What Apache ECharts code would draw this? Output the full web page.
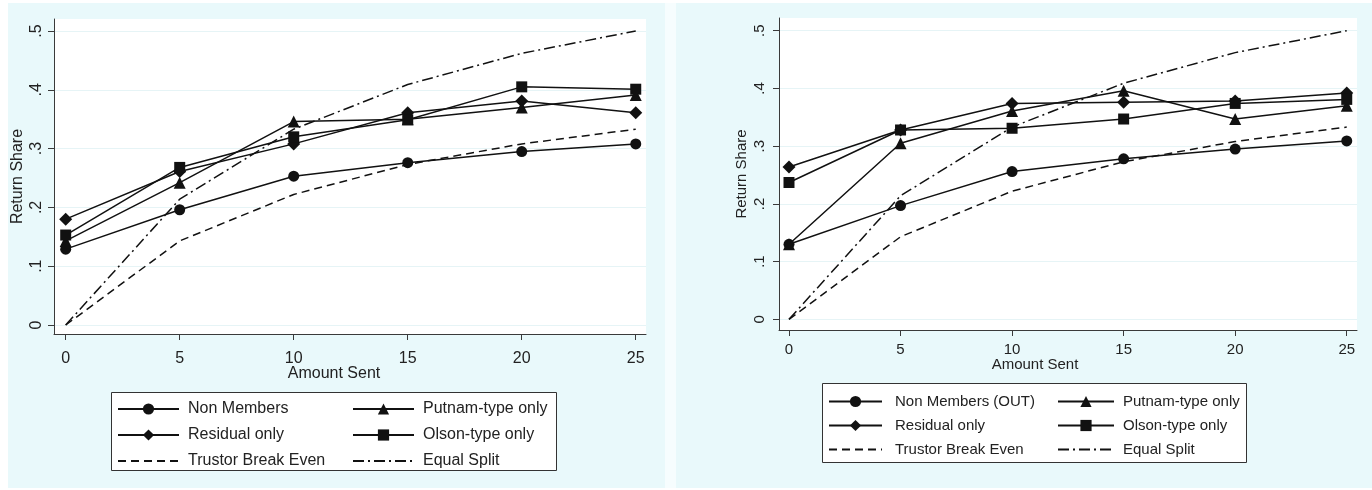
<!DOCTYPE html>
<html>
<head>
<meta charset="utf-8">
<script src="https://cdn.jsdelivr.net/npm/echarts@6/dist/echarts.min.js"></script>
<style>
html,body{margin:0;padding:0;background:#ffffff;}
#chart{width:1372px;height:490px;}
</style>
</head>
<body>
<div id="chart"></div>
<script>
// ---- data ----
const amounts = [0, 5, 10, 15, 20, 25];
const xTicks = [0, 5, 10, 15, 20, 25];
const yTicks = [0, 0.1, 0.2, 0.3, 0.4, 0.5];

// left panel
const nonMembersLeft = [0.129, 0.196, 0.253, 0.276, 0.295, 0.308];
const putnamLeft     = [0.143, 0.242, 0.346, 0.350, 0.370, 0.391];
const residualLeft   = [0.180, 0.261, 0.308, 0.361, 0.381, 0.361];
const olsonLeft      = [0.153, 0.268, 0.320, 0.349, 0.405, 0.401];

// right panel
const nonMembersRight = [0.130, 0.197, 0.256, 0.278, 0.295, 0.309];
const putnamRight     = [0.130, 0.305, 0.361, 0.396, 0.347, 0.370];
const residualRight   = [0.264, 0.328, 0.374, 0.376, 0.378, 0.392];
const olsonRight      = [0.237, 0.328, 0.331, 0.347, 0.374, 0.381];

// reference lines (both panels)
const trustorBreakEven = [0, 0.143, 0.222, 0.273, 0.308, 0.333];
const equalSplit       = [0, 0.214, 0.333, 0.409, 0.462, 0.500];

const FONT = 'Liberation Sans, Arial, Helvetica, sans-serif';
const INK = '#111111';

function pts(vals) { return amounts.map((a, i) => [a, vals[i]]); }
function fmtY(v) { return Math.abs(v) < 1e-9 ? '0' : v.toFixed(1).replace(/^0/, ''); }

function markerSeries(name, vals, symbol, idx) {
  return {
    type: 'line', name: name, data: pts(vals),
    xAxisIndex: idx, yAxisIndex: idx,
    symbol: symbol, symbolSize: symbol === 'triangle' ? 12 : (symbol === 'diamond' ? 13 : 11),
    showSymbol: true,
    itemStyle: { color: INK },
    lineStyle: { color: INK, width: 1.5, type: 'solid' },
    emphasis: { disabled: true }, animation: false, z: 3
  };
}
function refSeries(name, vals, dash, idx) {
  return {
    type: 'line', name: name, data: pts(vals),
    xAxisIndex: idx, yAxisIndex: idx,
    symbol: 'none', showSymbol: false,
    itemStyle: { color: INK },
    lineStyle: { color: INK, width: 1.5, type: dash },
    emphasis: { disabled: true }, animation: false, z: 2
  };
}

const DASH = [8, 5];
const DASHDOT = [11, 4, 2, 4];

function xAxisCfg(idx, min, max, fs, margin) {
  return {
    gridIndex: idx, type: 'value', min: min, max: max,
    axisLine: { show: true, onZero: false, lineStyle: { color: '#3a3a3a', width: 1 } },
    axisTick: { show: true, length: 6, customValues: xTicks, lineStyle: { color: '#3a3a3a' } },
    axisLabel: { customValues: xTicks, fontSize: fs, fontFamily: FONT, color: '#222', margin: margin,
                 formatter: v => String(v) },
    splitLine: { show: false }
  };
}
function yAxisCfg(idx, min, max, fs, margin, nameGap) {
  return {
    gridIndex: idx, type: 'value', min: min, max: max,
    axisLine: { show: true, onZero: false, lineStyle: { color: '#3a3a3a', width: 1 } },
    axisTick: { show: true, length: 6, customValues: yTicks, lineStyle: { color: '#3a3a3a' } },
    axisLabel: { customValues: yTicks, rotate: 90, fontSize: fs, fontFamily: FONT, color: '#222',
                 margin: margin, formatter: fmtY },
    splitLine: { show: true, lineStyle: { color: '#e6f4f6', width: 1 } },
    name: 'Return Share', nameLocation: 'middle', nameGap: nameGap, nameRotate: 90,
    nameTextStyle: { fontSize: fs, fontFamily: FONT, color: '#222' }
  };
}

function legendItems(names) {
  return names.map(n => (n === 'Trustor Break Even' || n === 'Equal Split')
    ? { name: n, itemStyle: { opacity: 0 } }
    : { name: n });
}
function legendCfg(names, left, top, itemWidth, fs, gap, textGap) {
  return {
    data: legendItems(names), orient: 'vertical', left: left, top: top,
    itemWidth: itemWidth, itemHeight: 14, itemGap: gap,
    textStyle: { fontSize: fs, fontFamily: FONT, color: '#222', padding: [0, 0, 0, textGap] },
    padding: 0, selectedMode: false
  };
}

const chart = echarts.init(document.getElementById('chart'), null, { renderer: 'canvas' });
const option = {
  backgroundColor: '#ffffff',
  animation: false,
  graphic: [
    { type: 'rect', z: -10, shape: { x: 8, y: 3, width: 657, height: 485 }, style: { fill: '#e9f9fb' } },
    { type: 'rect', z: -10, shape: { x: 665, y: 3, width: 11, height: 485 }, style: { fill: '#f6fdfe' } },
    { type: 'rect', z: -10, shape: { x: 676, y: 3, width: 696, height: 485 }, style: { fill: '#e9f9fb' } },
    { type: 'rect', z: 1, shape: { x: 111.5, y: 392.5, width: 445, height: 78 }, style: { fill: '#ffffff', stroke: '#333', lineWidth: 1 } },
    { type: 'rect', z: 1, shape: { x: 822.5, y: 383.5, width: 424, height: 79 }, style: { fill: '#ffffff', stroke: '#333', lineWidth: 1 } },
    { type: 'text', z: 5, style: { text: 'Amount Sent', x: 334, y: 374, align: 'center', verticalAlign: 'middle', font: '16px ' + FONT, fill: '#222' } },
    { type: 'text', z: 5, style: { text: 'Amount Sent', x: 1035, y: 365, align: 'center', verticalAlign: 'middle', font: '15px ' + FONT, fill: '#222' } }
  ],
  grid: [
    { left: 54, top: 19, width: 592, height: 315, show: true, backgroundColor: '#ffffff', borderWidth: 0 },
    { left: 779, top: 18, width: 578, height: 312, show: true, backgroundColor: '#ffffff', borderWidth: 0 }
  ],
  xAxis: [
    xAxisCfg(0, -0.513, 25.45, 16, 17),
    xAxisCfg(1, -0.448, 25.46, 15, 12)
  ],
  yAxis: [
    yAxisCfg(0, -0.0153, 0.5204, 16, 9, 28),
    yAxisCfg(1, -0.0185, 0.522, 15, 12, 30)
  ],
  legend: [
    legendCfg(['Non Members', 'Residual only', 'Trustor Break Even'], 117, 401, 61, 16, 10, 4),
    legendCfg(['Putnam-type only', 'Olson-type only', 'Equal Split'], 352, 401, 61, 16, 10, 4),
    legendCfg(['Non Members (OUT)', 'Residual only', 'Trustor Break Even'], 828, 394, 53, 15, 9, 8),
    legendCfg(['Putnam-type only', 'Olson-type only', 'Equal Split'], 1057, 394, 56, 15, 9, 4)
  ],
  series: [
    markerSeries('Non Members', nonMembersLeft, 'circle', 0),
    markerSeries('Putnam-type only', putnamLeft, 'triangle', 0),
    markerSeries('Residual only', residualLeft, 'diamond', 0),
    markerSeries('Olson-type only', olsonLeft, 'rect', 0),
    refSeries('Trustor Break Even', trustorBreakEven, DASH, 0),
    refSeries('Equal Split', equalSplit, DASHDOT, 0),
    markerSeries('Non Members (OUT)', nonMembersRight, 'circle', 1),
    markerSeries('Putnam-type only', putnamRight, 'triangle', 1),
    markerSeries('Residual only', residualRight, 'diamond', 1),
    markerSeries('Olson-type only', olsonRight, 'rect', 1),
    refSeries('Trustor Break Even', trustorBreakEven, DASH, 1),
    refSeries('Equal Split', equalSplit, DASHDOT, 1)
  ]
};
chart.setOption(option);
</script>
</body>
</html>
